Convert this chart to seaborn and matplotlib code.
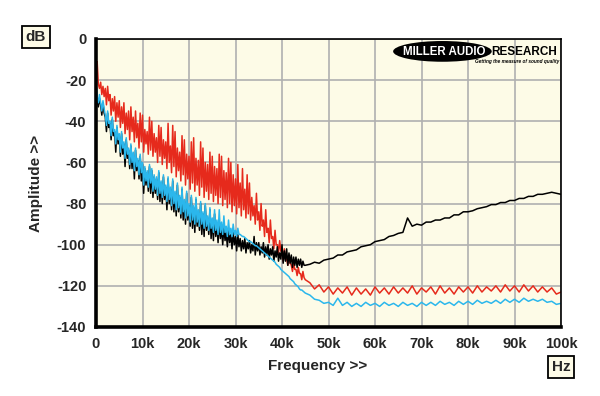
import numpy as np
import pandas as pd
import matplotlib
matplotlib.use('Agg')
import matplotlib.pyplot as plt
from matplotlib.patches import Ellipse
import seaborn as sns

# frequency grid: fine steps where the spectra are noisy, coarser above 45k
freq_noisy = np.arange(0, 45001, 250)
freq_flat = np.arange(46000, 100001, 1000)
freq = np.concatenate([freq_noisy, freq_flat])

# --- values (dB), 4 samples per kHz up to 45k ---
red_noisy = [
    -14, -11, -22, -24,  -21, -27, -23, -28,  -24, -32, -23, -30,  -27, -37, -29, -35,
    -28, -40, -31, -38,  -30, -43, -33, -41,  -31, -46, -36, -44,  -35, -49, -33, -45,
    -38, -50, -35, -48,  -41, -53, -36, -50,  -37, -55, -44, -51,  -45, -56, -38, -54,
    -40, -57, -46, -55,  -48, -60, -42, -57,  -43, -61, -49, -58,  -50, -63, -41, -60,
    -52, -65, -42, -62,  -45, -67, -53, -64,  -55, -69, -47, -66,  -49, -71, -56, -68,
    -57, -73, -50, -70,  -48, -74, -58, -71,  -59, -76, -50, -72,  -53, -77, -60, -74,
    -61, -78, -55, -75,  -57, -79, -62, -76,  -63, -80, -56, -77,  -57, -81, -64, -78,
    -65, -82, -58, -80,  -60, -84, -66, -81,  -68, -85, -61, -82,  -70, -86, -63, -83,
    -73, -87, -66, -85,  -70, -88, -77, -86,  -81, -90, -75, -88,  -84, -93, -80, -91,
    -88, -96, -83, -94,  -92, -99, -88, -97,  -96, -102, -93, -100,  -100, -104, -98, -103,
    -104, -108, -102, -107,  -107, -110, -106, -109,  -110, -113, -109, -112,
    -112, -115, -111, -114,  -114, -117, -113, -116,  -117,
]
red_flat = [
    -118.5, -121.5, -119.5, -123, -120.5, -124, -121, -123.5, -120.5, -124.5,
    -121, -124, -121.5, -124.5, -120.5, -123.5, -121, -124, -120.5, -123.5,
    -121, -123.5, -120, -124, -121, -123, -120.5, -124, -120, -123.5,
    -121, -124, -120.5, -123, -120.5, -123.5, -120, -123, -120.5, -122.5,
    -120, -123, -119.5, -122.5, -120, -123, -119.5, -122.5, -120, -123,
    -120.5, -123, -121, -124, -123,
]

cyan_noisy = [
    -22, -28, -31, -27,  -31, -35, -30, -34,  -37, -42, -35, -41,  -40, -47, -38, -45,
    -44, -51, -42, -49,  -46, -55, -45, -53,  -50, -58, -48, -56,  -53, -61, -51, -60,
    -55, -64, -53, -62,  -58, -66, -56, -65,  -60, -71, -62, -69,  -64, -72, -61, -70,
    -63, -74, -66, -73,  -67, -76, -64, -75,  -69, -77, -66, -76,  -71, -79, -67, -78,
    -72, -81, -68, -80,  -74, -83, -70, -82,  -76, -85, -72, -84,  -78, -87, -74, -86,
    -80, -89, -76, -88,  -81, -90, -77, -89,  -83, -91, -79, -90,  -84, -92, -80, -91,
    -86, -93, -82, -92,  -87, -94, -83, -93,  -88, -95, -83, -94,  -89, -95, -86, -94,
    -91, -96, -88, -95,  -92, -96, -90, -95,  -93, -96, -92, -95,  -95, -95.5, -96, -96,
    -96.5, -97, -97.5, -98,  -98.5, -98.5, -99, -99.5,  -100, -100.5, -100.5, -101,
    -101.5, -102, -102.5, -103,  -103.5, -104, -104.5, -105,  -105.5, -106, -106.5, -107,
    -107.5, -108, -108.5, -109.5,  -110, -110.5, -111, -112,  -112.5, -113, -113.5, -114,
    -114.5, -115, -115.5, -116.5,  -117, -117.5, -118, -119,  -119.5, -120, -120.5, -121.5,
    -122, -122, -122.5, -123,  -123.5,
]
cyan_flat = [
    -124.5, -126.5, -127, -128.5, -128, -129.5, -126, -129.5, -128, -130,
    -128.5, -130, -128, -129.5, -128.5, -130, -128, -129.5, -128.5, -130,
    -128, -129.5, -128.5, -130, -128, -129.5, -128, -129.5, -127.5, -129,
    -128, -129.5, -127.5, -129, -127.5, -129, -127, -128.5, -127.5, -128.5,
    -127, -128.5, -126.5, -128, -126.5, -128, -126, -127.5, -126.5, -127.5,
    -126.5, -128, -127.5, -129, -128.5,
]

black_noisy = [
    -21, -30, -33, -29,  -32, -37, -31, -36,  -38, -45, -36, -43,  -41, -49, -39, -47,
    -45, -55, -43, -51,  -47, -57, -46, -56,  -51, -62, -49, -58,  -54, -63, -52, -63,
    -56, -68, -54, -64,  -59, -68, -57, -69,  -61, -75, -63, -71,  -65, -74, -62, -75,
    -64, -77, -67, -75,  -68, -78, -65, -79,  -70, -80, -67, -78,  -72, -83, -68, -80,
    -73, -83, -69, -84,  -75, -86, -71, -84,  -77, -87, -73, -88,  -79, -90, -75, -88,
    -81, -91, -77, -92,  -82, -94, -78, -91,  -84, -93, -80, -95,  -85, -96, -81, -93,
    -87, -95, -83, -97,  -88, -98, -85, -96,  -90, -99, -89, -97,  -92, -100, -91, -98,
    -94, -101, -93, -99,  -95, -102, -94, -100,  -96, -103, -95, -101,  -97, -103, -98, -102,
    -97, -104, -99, -102,  -98, -104, -100, -103,  -96, -105, -99, -103,  -99, -105, -101, -104,
    -99, -106, -101, -105,  -100, -107, -102, -105,  -101, -108, -103, -106,
    -101, -108, -104, -107,  -100, -109, -103, -108,  -102, -110, -104, -109,
    -105, -111, -106, -110,  -106, -111, -107, -110,  -107, -111, -108, -110,  -110,
]
black_flat = [
    -109.5, -108.5, -109, -107.5, -107, -106.5, -105, -105, -103.5, -103,
    -102.5, -101, -100.5, -100, -98.5, -98, -97.5, -96, -95.5, -94.5,
    -94, -87, -91, -90, -90.5, -89, -89, -88, -88, -87,
    -87, -85.5, -85.5, -84, -84, -83.5, -82.5, -82, -81.5, -80.5,
    -80.5, -79.5, -79.5, -78.5, -78.5, -77.5, -77.5, -76.5, -76.5, -75.5,
    -75.5, -75, -74.5, -75, -75.5,
]

series = {
    'red': red_noisy + red_flat,
    'black': black_noisy + black_flat,
    'cyan': cyan_noisy + cyan_flat,
}
palette = {'red': '#e62a1c', 'black': '#000000', 'cyan': '#2bb7ec'}

df = pd.concat(
    [pd.DataFrame({'freq': freq, 'db': v, 'trace': k}) for k, v in series.items()],
    ignore_index=True,
)

sns.set_style('white')
plt.rcParams['font.family'] = ['Liberation Sans', 'DejaVu Sans']
plt.rcParams['font.weight'] = 'bold'

fig = plt.figure(figsize=(6, 3.96), dpi=100)
ax = fig.add_axes([96 / 600, 1 - 327 / 396, 465 / 600, 288 / 396])
ax.set_facecolor('#fdfbe7')

sns.lineplot(data=df, x='freq', y='db', hue='trace', hue_order=['red', 'black', 'cyan'],
             palette=palette, estimator=None, linewidth=1.1, legend=False, ax=ax)

ax.set_xlim(0, 100000)
ax.set_ylim(-140, 0)
ax.set_xticks(np.arange(0, 100001, 10000))
ax.set_xticklabels(['0'] + [f'{k}k' for k in range(10, 101, 10)])
ax.set_yticks(np.arange(-140, 1, 20))
ax.set_yticklabels([str(v) for v in range(-140, 1, 20)])
ax.grid(True, color='#b0b0b0', linewidth=1.2)
ax.set_axisbelow(True)

for side in ['top', 'right']:
    ax.spines[side].set_linewidth(1.2)
    ax.spines[side].set_color('black')
for side in ['left', 'bottom']:
    ax.spines[side].set_linewidth(2.6)
    ax.spines[side].set_color('black')
ax.tick_params(axis='both', direction='out', length=5, width=1.2, color='black',
               labelsize=10.5, pad=2)

ax.set_xlabel('Frequency >>', fontsize=11, fontweight='bold')
ax.set_ylabel('Amplitude >>', fontsize=11, fontweight='bold')
ax.xaxis.set_label_coords((318 - 96) / 465, (327 - 359) / 288)
ax.yaxis.set_label_coords((43 - 96) / 465, 0.5)

box = dict(boxstyle='square,pad=0.25', facecolor='#fdfbe7', edgecolor='black', linewidth=1.3)
fig.text(36 / 600, 1 - 37 / 396, 'dB', ha='center', va='center', fontsize=11,
         fontweight='bold', bbox=box)
fig.text(561 / 600, 1 - 367 / 396, 'Hz', ha='center', va='center', fontsize=11,
         fontweight='bold', bbox=box)

# logo
ax.add_patch(Ellipse((0.745, 0.957), 0.212, 0.072, transform=ax.transAxes,
                     facecolor='black', edgecolor='none', zorder=5))
ax.text(0.748, 0.956, 'MILLER AUDIO', transform=ax.transAxes, ha='center', va='center',
        color='white', fontsize=8.3, fontweight='bold', zorder=6)
ax.text(0.850, 0.956, 'RESEARCH', transform=ax.transAxes, ha='left', va='center',
        color='black', fontsize=8.5, fontweight='bold', zorder=6)
ax.text(0.996, 0.922, 'Getting the measure of sound quality', transform=ax.transAxes,
        ha='right', va='center', color='black', fontsize=3.4, fontweight='bold',
        style='italic', zorder=6)

fig.savefig('out.png', dpi=100, facecolor='white')
